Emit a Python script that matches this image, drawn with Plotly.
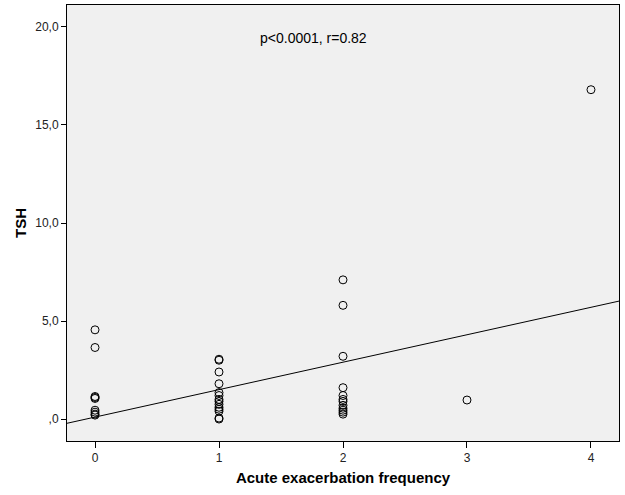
import plotly.graph_objects as go

# Data
freq_0 = [4.55, 3.65, 1.15, 1.1, 1.05, 0.45, 0.35, 0.25, 0.2]
freq_1 = [3.05, 3.0, 2.4, 1.8, 1.35, 1.2, 1.0, 0.9, 0.75, 0.6, 0.5, 0.4, 0.05, 0.0]
freq_2 = [7.1, 5.8, 3.2, 1.6, 1.2, 1.0, 0.9, 0.7, 0.55, 0.45, 0.35, 0.25]
freq_3 = [0.97]
freq_4 = [16.8]
fit_intercept = 0.1
fit_slope = 1.4
x_tick_vals = [0, 1, 2, 3, 4]
y_tick_vals = [0, 5, 10, 15, 20]
y_tick_text = [",0", "5,0", "10,0", "15,0", "20,0"]
annotation_text = "p<0.0001, r=0.82"

xs, ys = [], []
for xv, vals in zip([0, 1, 2, 3, 4], [freq_0, freq_1, freq_2, freq_3, freq_4]):
    xs += [xv] * len(vals)
    ys += vals

x_range = [-0.226, 4.226]
y_range = [-1.12, 21.12]

fig = go.Figure()
fig.add_trace(go.Scatter(
    x=x_range, y=[fit_intercept + fit_slope * v for v in x_range],
    mode="lines", line=dict(color="black", width=1), showlegend=False,
    hoverinfo="skip"))
fig.add_trace(go.Scatter(
    x=xs, y=ys, mode="markers",
    marker=dict(symbol="circle-open", size=8, color="black",
                line=dict(width=1, color="black")),
    showlegend=False))

L, R, T, B = 67, 6, 5, 54
W, H = 625, 495
pw = W - L - R
ph = H - T - B

axis_font = dict(family="Liberation Sans, Arial, sans-serif", size=12, color="#222")
fig.update_layout(
    width=W, height=H,
    margin=dict(l=L, r=R, t=T, b=B),
    paper_bgcolor="white", plot_bgcolor="#F0F0F0",
    font=axis_font,
    xaxis=dict(range=x_range, tickvals=x_tick_vals, ticks="outside", ticklen=6,
               tickcolor="black", showgrid=False, zeroline=False,
               showline=True, linecolor="black", linewidth=1, mirror=True,
               title=dict(text="<b>Acute exacerbation frequency</b>",
                          font=dict(size=15, color="black"), standoff=8)),
    yaxis=dict(range=y_range, tickvals=y_tick_vals, ticktext=y_tick_text,
               ticks="outside", ticklen=5, tickcolor="black", showgrid=False,
               zeroline=False, showline=True, linecolor="black", linewidth=1,
               mirror=True,
               title=dict(text="<b>TSH</b>", font=dict(size=15, color="black"),
                          standoff=4)),
    annotations=[dict(text=annotation_text,
                      x=(313 - L) / pw, y=1 - (38 - T) / ph,
                      xref="paper", yref="paper",
                      xanchor="center", yanchor="middle",
                      showarrow=False, font=dict(size=14, color="black"))],
)

fig.write_html("out.html", config={"displayModeBar": False},
               post_script="document.body.style.margin='0';document.body.style.padding='0';")
